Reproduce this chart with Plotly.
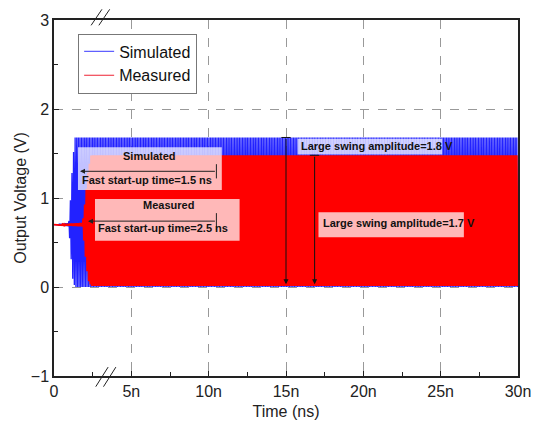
import numpy as np
import plotly.graph_objects as go

# Envelope of each waveform (time in ns, voltage in V)
sim_env_t = [0.0, 0.95, 1.05, 1.20, 1.35, 30.0]
sim_env_hi = [0.70, 0.72, 0.95, 1.40, 1.68, 1.68]
sim_env_lo = [0.70, 0.68, 0.45, 0.10, 0.00, 0.00]

meas_env_t = [0.0, 1.85, 2.00, 2.20, 2.40, 30.0]
meas_env_hi = [0.70, 0.72, 0.95, 1.30, 1.48, 1.48]
meas_env_lo = [0.70, 0.68, 0.40, 0.08, 0.01, 0.01]

osc_freq_ghz = 9.7  # oscillation frequency of the output

x_tick_vals = [0, 5, 10, 15, 20, 25, 30]
x_tick_text = ["0", "5n", "10n", "15n", "20n", "25n", "30n"]
y_tick_vals = [-1, 0, 1, 2, 3]

sim_startup_ns = 1.5
meas_startup_ns = 2.5
sim_swing_v = 1.8
meas_swing_v = 1.7

SIM_COLOR = "#2222ff"
MEAS_COLOR = "#ff0000"


def waveform(env_t, env_hi, env_lo, n=24001):
    t = np.linspace(0, 30, n)
    hi = np.interp(t, env_t, env_hi)
    lo = np.interp(t, env_t, env_lo)
    v = lo + (hi - lo) * (0.5 + 0.5 * np.sin(2 * np.pi * osc_freq_ghz * t))
    return t, v


t_sim, v_sim = waveform(sim_env_t, sim_env_hi, sim_env_lo)
t_meas, v_meas = waveform(meas_env_t, meas_env_hi, meas_env_lo)

fig = go.Figure()
fig.add_trace(go.Scatter(x=t_sim, y=v_sim, mode="lines", name="Simulated", showlegend=False,
                         line=dict(color=SIM_COLOR, width=1.3)))
fig.add_trace(go.Scatter(x=t_meas, y=v_meas, mode="lines", name="Measured", showlegend=False,
                         line=dict(color=MEAS_COLOR, width=1.8)))
# thin-line legend entries
fig.add_trace(go.Scatter(x=[None], y=[None], mode="lines", name="Simulated",
                         line=dict(color="#6060ff", width=1.2)))
fig.add_trace(go.Scatter(x=[None], y=[None], mode="lines", name="Measured",
                         line=dict(color="#ee2233", width=1.2)))

ann_font = dict(family="Liberation Sans Narrow, Arial Narrow, Liberation Sans",
                size=11, color="#111")
shapes = []
annotations = []

# translucent label boxes
boxes = [
    (1.55, 10.85, 1.09, 1.57),
    (2.65, 12.0, 0.52, 0.99),
    (15.75, 25.1, 1.49, 1.665),
    (17.1, 26.5, 0.56, 0.84),
]
for x0, x1, y0, y1 in boxes:
    shapes.append(dict(type="rect", xref="x", yref="y", x0=x0, x1=x1, y0=y0, y1=y1,
                       fillcolor="rgba(255,255,255,0.72)", line=dict(width=0), layer="above"))

# start-up time markers: arrow pointing left, end bar on the right
for y_line, x_start, y_bar in [(1.30, 1.68, (1.22, 1.38)), (0.74, 2.2, (0.64, 0.83))]:
    annotations.append(dict(x=x_start, y=y_line, ax=10.5, ay=y_line, xref="x", yref="y",
                            axref="x", ayref="y", text="", showarrow=True,
                            arrowhead=2, arrowsize=1, arrowwidth=1, arrowcolor="#222"))
    shapes.append(dict(type="line", xref="x", yref="y", x0=10.5, x1=10.5,
                       y0=y_bar[0], y1=y_bar[1], line=dict(color="#222", width=1)))

annotations += [
    dict(x=6.2, y=1.47, xref="x", yref="y", text="<b>Simulated</b>", showarrow=False,
         font=ann_font),
    dict(x=1.65, y=1.20, xref="x", yref="y", text="<b>Fast start-up time=%.1f ns</b>" % sim_startup_ns,
         showarrow=False, xanchor="left", font=ann_font),
    dict(x=7.4, y=0.92, xref="x", yref="y", text="<b>Measured</b>", showarrow=False,
         font=ann_font),
    dict(x=2.7, y=0.66, xref="x", yref="y", text="<b>Fast start-up time=%.1f ns</b>" % meas_startup_ns,
         showarrow=False, xanchor="left", font=ann_font),
    dict(x=15.85, y=1.58, xref="x", yref="y", text="<b>Large swing amplitude=%.1f V</b>" % sim_swing_v,
         showarrow=False, xanchor="left", font=ann_font),
    dict(x=17.25, y=0.72, xref="x", yref="y", text="<b>Large swing amplitude=%.1f V</b>" % meas_swing_v,
         showarrow=False, xanchor="left", font=ann_font),
]

# swing amplitude markers: bar on top, arrow down to 0 V
for x_v, top in [(15.0, sim_env_hi[-1]), (16.85, meas_env_hi[-1])]:
    annotations.append(dict(x=x_v, y=0.03, ax=x_v, ay=top, xref="x", yref="y",
                            axref="x", ayref="y", text="", showarrow=True,
                            arrowhead=2, arrowsize=1, arrowwidth=1, arrowcolor="#111"))
    shapes.append(dict(type="line", xref="x", yref="y", x0=x_v - 0.3, x1=x_v + 0.3,
                       y0=top, y1=top, line=dict(color="#111", width=1)))

# axis break marks
for xc in (2.75, 3.25):
    shapes.append(dict(type="line", xref="x", yref="paper", x0=xc - 0.35, x1=xc + 0.35,
                       y0=0.985, y1=1.03, line=dict(color="#222", width=1)))
for xc in (3.1, 3.6):
    shapes.append(dict(type="line", xref="x", yref="paper", x0=xc - 0.4, x1=xc + 0.4,
                       y0=-0.03, y1=0.025, line=dict(color="#222", width=1)))

axis_common = dict(showline=True, linecolor="#222", linewidth=1.5, mirror=True,
                   ticks="inside", ticklen=5, tickcolor="#222", zeroline=False,
                   showgrid=True, gridcolor="#999", griddash="dash", gridwidth=1.2,
                   tickfont=dict(family="Liberation Sans, Arial", size=16, color="#222"))

fig.update_layout(
    width=549, height=430,
    margin=dict(l=54, r=31, t=15, b=51),
    paper_bgcolor="white", plot_bgcolor="white",
    showlegend=True,
    legend=dict(x=0.052, y=0.962, xanchor="left", yanchor="top",
                bgcolor="white", bordercolor="#777", borderwidth=1,
                font=dict(family="Liberation Sans, Arial", size=16, color="#111"),
                itemwidth=30, tracegroupgap=0),
    xaxis=dict(range=[0, 30], tickvals=x_tick_vals, ticktext=x_tick_text,
               minor=dict(ticks="inside", ticklen=4, dtick=2.5, tickcolor="#222", showgrid=False),
               title=dict(text="Time (ns)", standoff=7,
                          font=dict(family="Liberation Sans, Arial", size=16, color="#222")),
               **axis_common),
    yaxis=dict(range=[-1, 3], tickvals=y_tick_vals,
               minor=dict(ticks="inside", ticklen=4, dtick=0.5, tickcolor="#222", showgrid=False),
               title=dict(text="Output Voltage (V)", standoff=0,
                          font=dict(family="Liberation Sans, Arial", size=16, color="#222")),
               **axis_common),
    shapes=shapes,
    annotations=annotations,
)

fig.write_html("out.html")
